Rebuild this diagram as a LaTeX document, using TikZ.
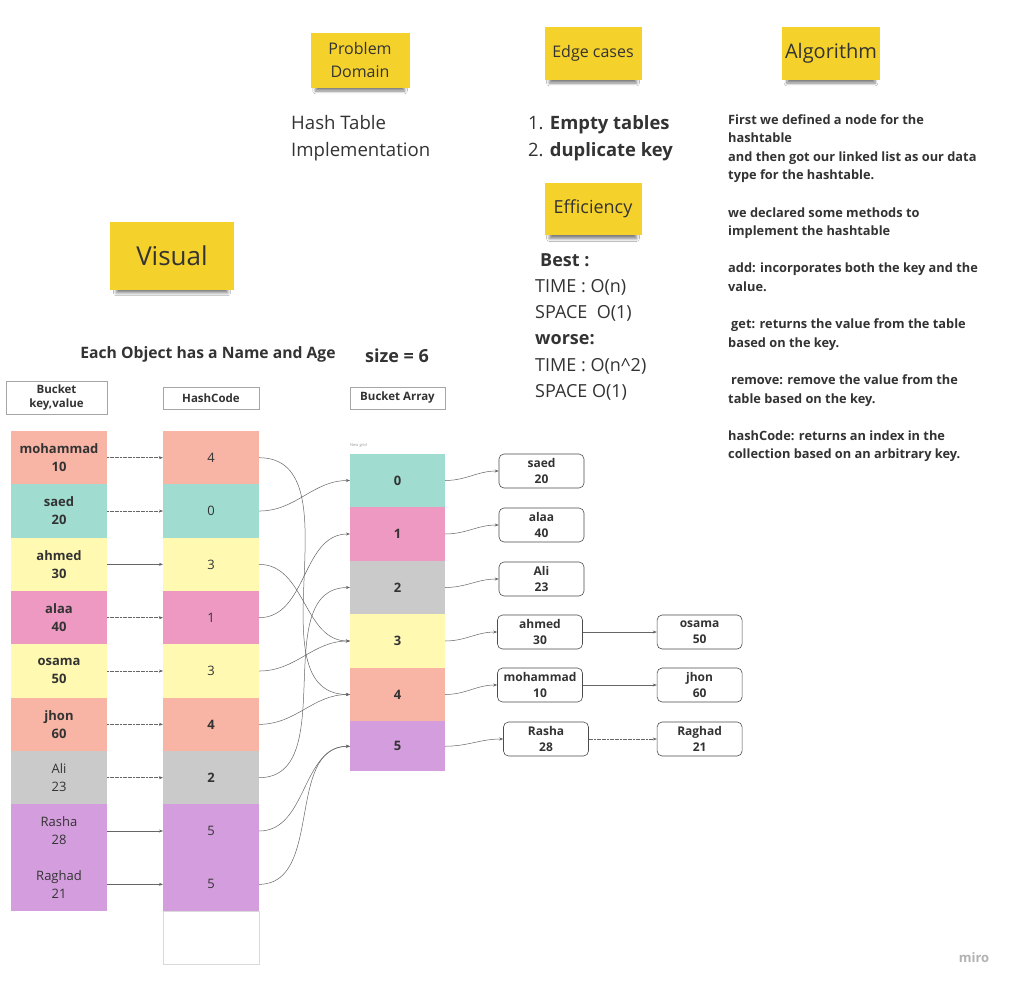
\documentclass[tikz,border=0pt]{standalone}
\usepackage{fontspec}
\setmainfont{Open Sans}
\usetikzlibrary{positioning,shadows.blur,arrows.meta}

\definecolor{salmon}{HTML}{F8B5A6}
\definecolor{mint}{HTML}{A0DDD0}
\definecolor{lemon}{HTML}{FFF9B1}
\definecolor{rose}{HTML}{EE99C1}
\definecolor{ash}{HTML}{CACACA}
\definecolor{lilac}{HTML}{D49EDE}
\definecolor{sticky}{HTML}{F5D22B}
\definecolor{ink}{HTML}{333333}

\begin{document}
\begin{tikzpicture}[x=1pt, y=-1pt,
    note/.style = {fill=sticky, text=ink, inner sep=0pt, align=center,
      blur shadow={shadow xshift=0pt, shadow yshift=-7pt, shadow scale=.9, shadow blur steps=8,
        shadow blur radius=3pt, shadow opacity=50}},
    cell/.style = {minimum width=96pt, minimum height=53.33pt, inner sep=0pt, outer sep=0pt,
      align=center, text=ink, font=\fontsize{13}{18}\selectfont},
    slot/.style = {cell, minimum width=95pt, minimum height=53.5pt, font=\bfseries\fontsize{13}{18}\selectfont},
    head/.style = {draw=black!35, line width=1pt, inner sep=0pt, align=center, text=ink,
      font=\bfseries\fontsize{11.5}{14}\selectfont},
    item/.style = {draw=black!70, line width=.6pt, rounded corners=5pt, minimum width=85pt,
      minimum height=34pt, inner sep=0pt, align=center, text=ink, font=\bfseries\fontsize{12}{16}\selectfont},
    link/.style = {-{Stealth[length=4pt,width=3pt]}, draw=black!60, line width=.5pt},
    dense/.style = {link, dash pattern=on 2pt off .6pt}]
    \fill[white] (0,0) rectangle (1013,986);
    \useasboundingbox (0,0) rectangle (1013,986);

    % sticky notes
    \node[note, minimum width=99pt, minimum height=55pt, font=\fontsize{16}{23}\selectfont] (pd) at (360,60) {Problem\\Domain};
    \node[note, minimum width=97pt, minimum height=53pt, font=\fontsize{16}{20}\selectfont] (ec) at (593,53) {Edge cases};
    \node[note, minimum width=98pt, minimum height=53pt, font=\fontsize{20}{24}\selectfont] (al) at (831,53) {Algorithm};
    \node[note, minimum width=97pt, minimum height=52pt, font=\fontsize{18}{22}\selectfont] (ef) at (593,209) {Efficiency};
    \node[note, minimum width=124pt, minimum height=68pt, font=\fontsize{26}{30}\selectfont] (vi) at (172,256) {Visual};

    % texts
    \node[anchor=north west, inner sep=0pt, align=left, text=ink, font=\fontsize{18.6}{27}\selectfont] (dom) at (291,115)
      {Hash Table\\Implementation};
    \node[anchor=north west, inner sep=0pt, align=left, text=ink, font=\fontsize{18.4}{27}\selectfont] (cases) at (528,115)
      {1. \textbf{Empty tables}\\2. \textbf{duplicate key}};
    \node[anchor=north west, inner sep=0pt, align=left, text=ink, font=\fontsize{18}{26.3}\selectfont] (eff) at (535,253)
      {\textbf{\hspace{5pt}Best :}\\TIME : O(n)\\SPACE\ \ O(1)\\\textbf{worse:}\\TIME : O(n\textasciicircum2)\\SPACE O(1)};
    \node[anchor=north west, inner sep=0pt, align=left, text=ink, font=\bfseries\fontsize{12.8}{18.6}\selectfont] (alg) at (728,114)
      {First we defined a node for the\\hashtable\\and then got our linked list as our data\\type for the hashtable.\\[18.6pt]
       we declared some methods to\\implement the hashtable\\[18.6pt]
       add: incorporates both the key and the\\value.\\[18.6pt]
       \hspace{3pt}get: returns the value from the table\\based on the key.\\[18.6pt]
       \hspace{3pt}remove: remove the value from the\\table based on the key.\\[18.6pt]
       hashCode: returns an index in the\\collection based on an arbitrary key.};
    \node[text=ink, font=\bfseries\fontsize{15.7}{20}\selectfont] (obj) at (208,354) {Each Object has a Name and Age};
    \node[text=ink, font=\bfseries\fontsize{18}{22}\selectfont] (size) at (397,356) {size = 6};

    % column heads
    \node[head, minimum width=101pt, minimum height=33pt] (hk) at (56.5,397.5) {Bucket\\key,value};
    \node[head, minimum width=96pt, minimum height=22pt] (hh) at (211,398) {HashCode};
    \node[head, minimum width=95pt, minimum height=22pt] (hb) at (397.5,398) {Bucket Array};

    % keys
    \node[cell, fill=salmon, font=\bfseries\fontsize{13}{18}\selectfont] (k1) at (59,457.7) {mohammad\\10};
    \node[cell, fill=mint, font=\bfseries\fontsize{13}{18}\selectfont, below=0pt of k1] (k2) {saed\\20};
    \node[cell, fill=lemon, font=\bfseries\fontsize{13}{18}\selectfont, below=0pt of k2] (k3) {ahmed\\30};
    \node[cell, fill=rose, font=\bfseries\fontsize{13}{18}\selectfont, below=0pt of k3] (k4) {alaa\\40};
    \node[cell, fill=lemon, font=\bfseries\fontsize{13}{18}\selectfont, below=0pt of k4] (k5) {osama\\50};
    \node[cell, fill=salmon, font=\bfseries\fontsize{13}{18}\selectfont, below=0pt of k5] (k6) {jhon\\60};
    \node[cell, fill=ash, below=0pt of k6] (k7) {Ali\\23};
    \node[cell, fill=lilac, below=0pt of k7] (k8) {Rasha\\28};
    \node[cell, fill=lilac, below=0pt of k8] (k9) {Raghad\\21};

    % hash codes
    \node[cell, fill=salmon, right=56pt of k1] (h1) {4};
    \node[cell, fill=mint, below=0pt of h1] (h2) {0};
    \node[cell, fill=lemon, below=0pt of h2] (h3) {3};
    \node[cell, fill=rose, below=0pt of h3] (h4) {1};
    \node[cell, fill=lemon, below=0pt of h4] (h5) {3};
    \node[cell, fill=salmon, font=\bfseries\fontsize{13}{18}\selectfont, below=0pt of h5] (h6) {4};
    \node[cell, fill=ash, font=\bfseries\fontsize{13}{18}\selectfont, below=0pt of h6] (h7) {2};
    \node[cell, fill=lilac, below=0pt of h7] (h8) {5};
    \node[cell, fill=lilac, below=0pt of h8] (h9) {5};
    \node[cell, draw=black!15, line width=.8pt, below=0pt of h9] (h10) {};

    % bucket array
    \node[anchor=west, inner sep=0pt, text=black!40, font=\fontsize{4}{5}\selectfont] (grid) at (350,445) {New grid};
    \node[slot, fill=mint] (b0) at (397.5,480.5) {0};
    \node[slot, fill=rose, below=0pt of b0] (b1) {1};
    \node[slot, fill=ash, below=0pt of b1] (b2) {2};
    \node[slot, fill=lemon, below=0pt of b2] (b3) {3};
    \node[slot, fill=salmon, below=0pt of b3] (b4) {4};
    \node[slot, fill=lilac, minimum height=50pt, below=0pt of b4] (b5) {5};

    % chains
    \node[item] (n1) at (541.5,471) {saed\\20};
    \node[item] (n2) at (541.5,525) {alaa\\40};
    \node[item] (n3) at (541.5,579) {Ali\\23};
    \node[item] (n4) at (540,632) {ahmed\\30};
    \node[item, right=74pt of n4] (n5) {osama\\50};
    \node[item] (n6) at (540,685) {mohammad\\10};
    \node[item, right=74pt of n6] (n7) {jhon\\60};
    \node[item] (n8) at (546,739) {Rasha\\28};
    \node[item, right=68pt of n8] (n9) {Raghad\\21};

    \node[text=black!30, font=\bfseries\fontsize{13}{16}\selectfont] (miro) at (974,958) {miro};

    % keys to hash codes
    \draw[dense] (k1) -- (h1);
    \draw[dense] (k2) -- (h2);
    \draw[link] (k3) -- (h3);
    \draw[dense] (k4) -- (h4);
    \draw[dense] (k5) -- (h5);
    \draw[dense] (k6) -- (h6);
    \draw[dense] (k7) -- (h7);
    \draw[link] (k8) -- (h8);
    \draw[link] (k9) -- (h9);

    % hash codes to buckets
    \draw[link] (h1.east) to[out=0,in=180] (b4.west);
    \draw[link] (h2.east) to[out=0,in=180] (b0.west);
    \draw[link] (h3.east) to[out=0,in=180] (b3.west);
    \draw[link] (h4.east) to[out=0,in=180] (b1.west);
    \draw[link] (h5.east) to[out=0,in=180] (b3.west);
    \draw[link] (h6.east) to[out=0,in=180] (b4.west);
    \draw[link] (h7.east) to[out=0,in=180] (b2.west);
    \draw[link] (h8.east) to[out=0,in=180] (b5.west);
    \draw[link] (h9.east) to[out=0,in=180] (b5.west);

    % buckets to chains
    \draw[link] (b0.east) to[out=0,in=180] (n1.west);
    \draw[link] (b1.east) to[out=0,in=180] (n2.west);
    \draw[link] (b2.east) to[out=0,in=180] (n3.west);
    \draw[link] (b3.east) to[out=0,in=180] (n4.west);
    \draw[link] (b4.east) to[out=0,in=180] (n6.west);
    \draw[link] (b5.east) to[out=0,in=180] (n8.west);
    \draw[link] (n4) -- (n5);
    \draw[link] (n6) -- (n7);
    \draw[dense] (n8) -- (n9);
\end{tikzpicture}
\end{document}
